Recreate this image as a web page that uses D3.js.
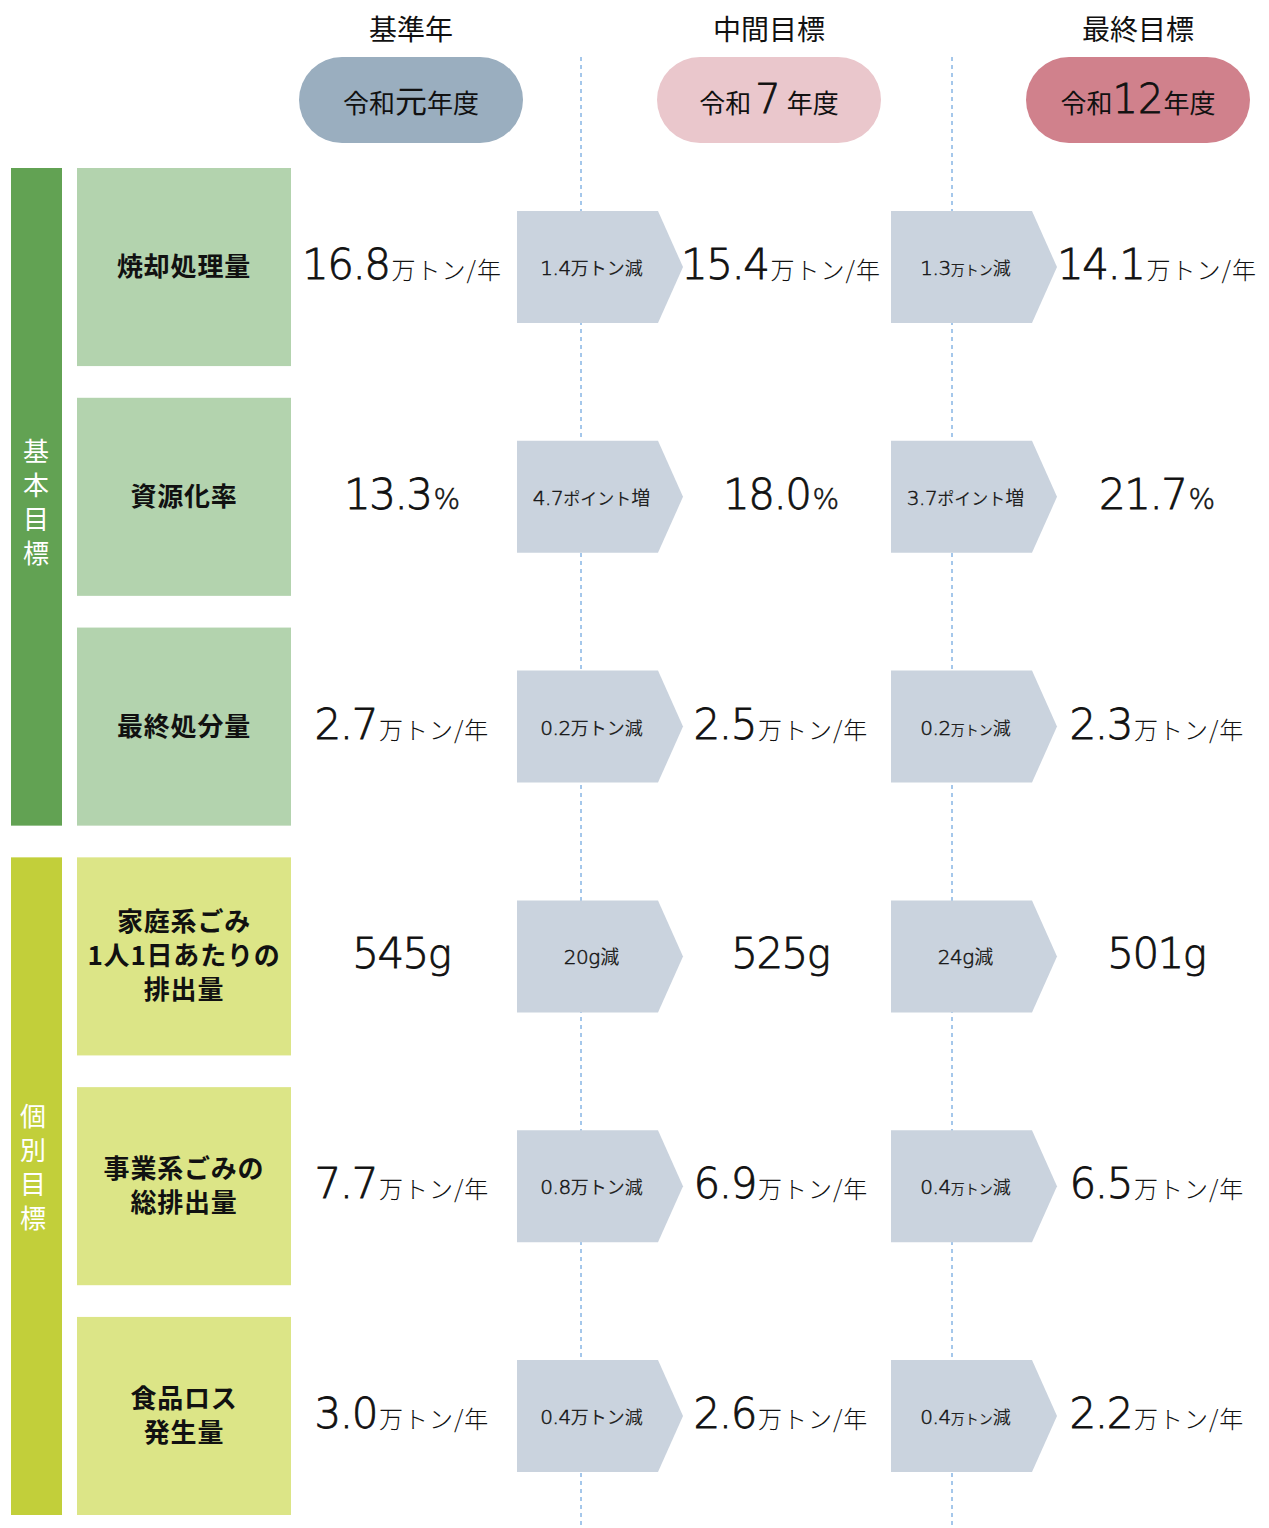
<!DOCTYPE html>
<html>
<head>
<meta charset="utf-8">
<script src="https://cdn.jsdelivr.net/npm/d3@7"></script>
<style>
  body { margin: 0; background: #fff; }
  svg text { font-family: "Noto Sans CJK JP", "Noto Sans", sans-serif; }
  svg .num { font-family: "DejaVu Sans", "Noto Sans", sans-serif; font-weight: 200; stroke: #111; stroke-width: 0.8px; }
  svg .small { stroke-width: 0.5px; }
</style>
</head>
<body>
<div class="chart"></div>
<script>
// ---- data ----
var periods = ["基準年", "中間目標", "最終目標"];
var periodEra = ["令和", "令和", "令和"];
var periodYear = ["元", "7", "12"];
var groups = ["基本目標", "個別目標"];
var groupOf = [0, 0, 0, 1, 1, 1];
var categories = ["焼却処理量", "資源化率", "最終処分量", "家庭系ごみ\n1人1日あたりの\n排出量", "事業系ごみの\n総排出量", "食品ロス\n発生量"];
var units = ["万トン/年", "%", "万トン/年", "g", "万トン/年", "万トン/年"];
var baseValues = [16.8, 13.3, 2.7, 545, 7.7, 3.0];
var midValues = [15.4, 18.0, 2.5, 525, 6.9, 2.6];
var finalValues = [14.1, 21.7, 2.3, 501, 6.5, 2.2];
var change1 = [1.4, 4.7, 0.2, 20, 0.8, 0.4];
var change2 = [1.3, 3.7, 0.2, 24, 0.4, 0.4];
var changeUnits = ["万トン減", "ポイント増", "万トン減", "g減", "万トン減", "万トン減"];

var W = 1269, H = 1528;
var svg = d3.select("div.chart").append("svg")
  .attr("width", W).attr("height", H);

// scales
var y = d3.scaleBand().domain(d3.range(categories.length))
  .range([168, 1515]).paddingInner(0.138).paddingOuter(0);
var colCenter = d3.scaleOrdinal().domain(periods).range([402, 781, 1157]);
var headCenter = d3.scaleOrdinal().domain(periods).range([411, 769, 1138]);
var pillFill = d3.scaleOrdinal().domain(periods).range(["#9aaebf", "#eac7cc", "#d0818c"]);
var arrowX = d3.scaleOrdinal().domain([0, 1]).range([517, 891]);
var groupFill = d3.scaleOrdinal().domain(groups).range(["#62a253", "#c2cf3a"]);
var boxFill = d3.scaleOrdinal().domain(groups).range(["#b3d3ae", "#dce587"]);

var bw = y.bandwidth();
function rowC(i) { return y(i) + bw / 2; }

// dashed separators
[581, 952].forEach(function (x) {
  svg.append("line").attr("x1", x).attr("x2", x).attr("y1", 57).attr("y2", H)
    .attr("stroke", "#4a8fd6").attr("stroke-width", 1).attr("stroke-dasharray", "4,4");
});

// headers + pills
periods.forEach(function (p, k) {
  var cx = headCenter(p);
  svg.append("text").attr("x", cx).attr("y", 40).attr("text-anchor", "middle")
    .style("font-size", "28px").style("fill", "#111").text(p);
  svg.append("rect").attr("x", cx - 112).attr("y", 57).attr("width", 224).attr("height", 86)
    .attr("rx", 43).attr("fill", pillFill(p));
  var t = svg.append("text").attr("x", cx).attr("y", 113).attr("text-anchor", "middle")
    .style("fill", "#111");
  t.append("tspan").style("font-size", "26px").text(periodEra[k]);
  if (k === 0) {
    t.append("tspan").style("font-size", "32px").text(periodYear[k]);
  } else {
    t.append("tspan").attr("class", "num").style("font-size", "40px")
      .attr("dx", k === 1 ? 4 : 0).text(periodYear[k]);
  }
  t.append("tspan").style("font-size", "26px").attr("dx", k === 1 ? 6 : 0).text("年度");
});

// group bars
groups.forEach(function (g, gi) {
  var rows = d3.range(categories.length).filter(function (i) { return groupOf[i] === gi; });
  var y0 = y(rows[0]), y1 = y(rows[rows.length - 1]) + bw;
  svg.append("rect").attr("x", 11).attr("y", y0).attr("width", 51).attr("height", y1 - y0)
    .attr("fill", groupFill(g));
  var chars = g.split("");
  var mid = (y0 + y1) / 2 + (gi === 0 ? 5 : -19);
  chars.forEach(function (c, j) {
    svg.append("text").attr("x", gi === 0 ? 36 : 33)
      .attr("y", mid + (j - (chars.length - 1) / 2) * 34 + 10)
      .attr("text-anchor", "middle").style("font-size", "26px").style("fill", "#fff").text(c);
  });
});

// category boxes
categories.forEach(function (c, i) {
  var g = groups[groupOf[i]];
  svg.append("rect").attr("x", 77).attr("y", y(i)).attr("width", 214).attr("height", bw)
    .attr("fill", boxFill(g));
  var lines = c.split("\n");
  lines.forEach(function (l, j) {
    svg.append("text").attr("x", 184)
      .attr("y", rowC(i) + (j - (lines.length - 1) / 2) * 34 + 9)
      .attr("text-anchor", "middle").style("font-size", "26px").style("font-weight", "bold")
      .style("letter-spacing", "0.8px").style("fill", "#111").text(l);
  });
});

function fmt(v, i) { return units[i] === "g" ? String(v) : v.toFixed(1); }

// value texts
var allValues = [baseValues, midValues, finalValues];
allValues.forEach(function (vals, k) {
  vals.forEach(function (v, i) {
    var t = svg.append("text").attr("x", colCenter(periods[k])).attr("y", rowC(i) + 12)
      .attr("text-anchor", "middle").style("fill", "#111");
    t.append("tspan").attr("class", "num").style("font-size", "42px")
      .style("letter-spacing", "-1.5px").text(fmt(v, i));
    if (units[i] === "%") {
      t.append("tspan").attr("class", "num small").style("font-size", "28px").attr("dx", 2).text("%");
    } else if (units[i] === "g") {
      t.append("tspan").attr("class", "num").style("font-size", "40px").text("g");
    } else {
      t.append("tspan").style("font-size", "24px").style("font-weight", 300)
        .attr("dx", 2).style("letter-spacing", "1px").text(units[i]);
    }
  });
});

// change arrows
[change1, change2].forEach(function (chg, k) {
  chg.forEach(function (v, i) {
    var x0 = arrowX(k), c = rowC(i), h = 112, body = 141, tip = 25;
    var pts = [[x0, c - h / 2], [x0 + body, c - h / 2], [x0 + body + tip, c], [x0 + body, c + h / 2], [x0, c + h / 2]];
    svg.append("path").attr("d", d3.line()(pts) + "Z").attr("fill", "#cad3de");
    var t = svg.append("text").attr("x", x0 + body / 2 + 4).attr("y", c + 8)
      .attr("text-anchor", "middle").style("fill", "#222");
    t.append("tspan").attr("class", "num small").style("font-size", "20px")
      .style("letter-spacing", "-0.5px").text(units[i] === "g" ? String(v) : v.toFixed(1));
    var u = changeUnits[i];
    if (u === "万トン減") {
      t.append("tspan").style("font-size", k === 0 ? "18px" : "14px").text("万トン");
      t.append("tspan").style("font-size", "18px").text("減");
    } else if (u === "ポイント増") {
      t.append("tspan").style("font-size", "17px").text("ポイント");
      t.append("tspan").style("font-size", "19px").text("増");
    } else {
      t.append("tspan").attr("class", "num small").style("font-size", "20px").text("g");
      t.append("tspan").style("font-size", "19px").text("減");
    }
  });
});
</script>
</body>
</html>
